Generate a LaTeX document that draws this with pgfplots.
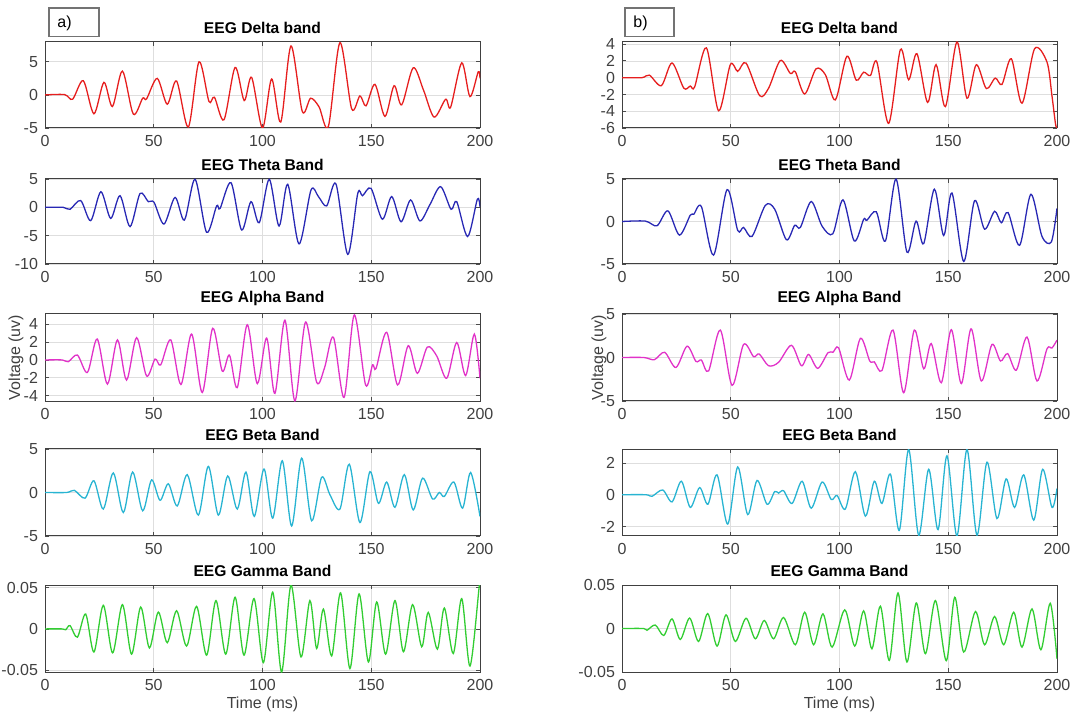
\documentclass[border=0pt]{standalone}
\usepackage{fontspec}
\setmainfont{Liberation Sans}
\usepackage{pgfplots}
\pgfplotsset{compat=1.18}
\definecolor{cdelta}{RGB}{230,30,30}
\definecolor{ctheta}{RGB}{40,40,180}
\definecolor{calpha}{RGB}{225,50,200}
\definecolor{cbeta}{RGB}{40,180,210}
\definecolor{cgamma}{RGB}{50,205,50}
\pgfplotsset{
  eeg/.style={
    scale only axis, width=217.5pt, anchor=north west,
    xmin=0, xmax=200, xtick={0,50,100,150,200}, xticklabels={0,50,100,150,200},
    grid=major, grid style={black!13, line width=0.35pt},
    tick align=inside, tick pos=both, major tick length=2.2pt,
    tick style={black!70, line width=0.4pt},
    axis line style={black!75, line width=0.5pt},
    ticklabel style={font=\fontsize{8}{9}\selectfont, text=black!75},
    title style={font=\bfseries\fontsize{7.8}{9}\selectfont, at={(0.5,1)}, anchor=south, yshift=-3pt, inner sep=1pt},
    scaled y ticks=false,
    x label style={font=\fontsize{8}{9}\selectfont, text=black!75, at={(axis description cs:0.5,0)}, anchor=center, yshift=-16pt},
  },
  sig/.style={smooth, line width=0.65pt},
}
\begin{document}
\begin{tikzpicture}
\path[use as bounding box] (0,0) rectangle (535pt,-357.5pt);
% boxes
\draw[black!55, line width=0.9pt] (24.5pt,-4.2pt) rectangle (49.5pt,-18.3pt);
\node[anchor=west, inner sep=0pt, font=\fontsize{8}{9}\selectfont] at (28.5pt,-11.8pt) {a)};
\draw[black!55, line width=0.9pt] (312.5pt,-4.2pt) rectangle (337pt,-18.3pt);
\node[anchor=west, inner sep=0pt, font=\fontsize{8}{9}\selectfont] at (316.5pt,-11.8pt) {b)};
% voltage labels
\node[rotate=90, font=\fontsize{8}{9}\selectfont, text=black!75] at (8pt,-178.75pt) {Voltage (uv)};
\node[rotate=90, font=\fontsize{8}{9}\selectfont, text=black!75] at (299.5pt,-178.75pt) {Voltage (uv)};

% ---------- Row 1 ----------
\begin{axis}[eeg, at={(22.5pt,-21pt)}, height=43pt, title={EEG Delta band},
  ymin=-5, ymax=8, ytick={-5,0,5}, yticklabels={-5,0,5}]
\addplot[sig, cdelta] coordinates {(0,0)(9,0.05)(12.7,-0.65)(17.6,2.15)(22.5,-2.85)(27.1,1.9)(31,-1.75)(35.6,3.6)(40.6,-2.9)(44.9,-0.5)(46.7,-0.6)(51.6,2.5)(56.2,-1.4)(60.5,2.1)(65.9,-4.85)(70.8,5.0)(75.4,-1.0)(77.9,-0.35)(82.3,-3.75)(87.4,4.15)(91.6,-0.85)(95,2.65)(100,-5.0)(104.2,2.4)(108.4,-4.1)(113.1,7.4)(118.3,-2.5)(122.1,-0.5)(126,-1.8)(130.3,-4.75)(135.6,7.9)(141,-2.1)(144.8,-0.15)(147.6,-1.65)(151.7,1.6)(156.3,-3.25)(160.5,1.4)(164,-1.5)(169.3,4.1)(174,0.75)(178.9,-3.35)(184.2,-0.65)(186.5,-1.85)(191.6,4.85)(195.4,-0.25)(199.2,3.5)(200,2.5)};
\end{axis}
\begin{axis}[eeg, at={(311pt,-21pt)}, height=43pt, title={EEG Delta band},
  ymin=-6, ymax=4.25, ytick={-6,-4,-2,0,2,4}, yticklabels={-6,-4,-2,0,2,4}]
\addplot[sig, cdelta] coordinates {(0,0)(9.2,0)(12.6,0.3)(18.1,-0.95)(23,1.75)(28.4,-1.25)(31.4,-1.0)(33.4,-1.1)(38.8,3.55)(44.4,-3.95)(49.8,1.55)(53.2,0.75)(57,1.75)(63.3,-2.15)(67.4,-1.25)(72.8,2.05)(77.4,0.5)(79.7,0.7)(84,-1.95)(89.2,1.05)(93.5,0.35)(98.1,-2.65)(103.4,2.55)(107.7,-0.3)(111.1,0.65)(114.2,0.25)(117.2,1.85)(122.6,-5.45)(128,3.35)(131.8,-0.25)(135.6,2.85)(140.5,-2.95)(144.4,1.55)(148.7,-3.45)(154,4.25)(158.6,-2.45)(162.9,1.55)(167.5,-1.3)(171.6,-0.05)(174.7,-0.8)(179,2.25)(183.9,-3.05)(189.7,3.45)(195.4,1.85)(197.7,-2.2)(199.3,-5.5)(200,-6.0)};
\end{axis}

% ---------- Row 2 ----------
\begin{axis}[eeg, at={(22.5pt,-89.5pt)}, height=42.5pt, title={EEG Theta Band},
  ymin=-10, ymax=5, ytick={-10,-5,0,5}, yticklabels={-10,-5,0,5}]
\addplot[sig, ctheta] coordinates {(0,0)(8.4,0)(11.5,-0.35)(16.4,1.2)(21,-2.35)(25.7,2.75)(30.2,-1.95)(34.5,2.05)(39.1,-3.4)(43.7,2.45)(47.5,1.0)(50.1,0.9)(54.7,-2.95)(59.8,1.75)(64.1,-2.25)(69,4.95)(74.3,-4.4)(78.9,0.25)(80.5,-0.2)(85.5,4.35)(90.4,-4.0)(94.7,1.0)(98.5,-2.7)(103.1,4.95)(107.6,-3.3)(111.6,4.05)(116.8,-6.45)(122.3,3.05)(125.7,1.9)(129.5,0.25)(133.8,4.1)(139.2,-8.3)(143.8,2.45)(146,2.05)(149.9,3.35)(155.1,-2.1)(159.4,1.9)(163.7,-2.55)(168.1,1.3)(172.4,-2.4)(177,0.5)(181.9,3.65)(186.7,-0.35)(189.3,1.0)(194.3,-5.15)(198.8,1.45)(200,0.1)};
\end{axis}
\begin{axis}[eeg, at={(311pt,-89.5pt)}, height=42.5pt, title={EEG Theta Band},
  ymin=-5, ymax=5, ytick={-5,0,5}, yticklabels={-5,0,5}]
\addplot[sig, ctheta] coordinates {(0,0)(10.7,0.05)(16.1,-0.5)(21.1,1.25)(26.4,-1.6)(31.4,0.75)(33,0.85)(36.5,1.75)(42.1,-3.95)(48.3,3.75)(53.2,-1.05)(55.9,-0.7)(59.8,-1.75)(65.9,1.9)(70.2,1.45)(75.6,-2.15)(79.4,-0.45)(82,-0.7)(87,2.35)(92,-0.55)(96.9,-1.45)(101.6,2.55)(106.8,-2.3)(111.1,0.25)(112.6,0.15)(116.9,1.15)(121.1,-2.3)(126,5.0)(131,-3.6)(135.2,0.05)(138.7,-2.6)(143.6,3.8)(147.9,-1.65)(151.7,3.35)(157.1,-4.7)(162.1,2.45)(166.7,-0.9)(171.3,1.2)(174.4,-0.15)(177.5,1.05)(182.8,-2.8)(188,3.2)(193.1,-1.75)(197.4,-2.4)(200,1.55)};
\end{axis}

% ---------- Row 3 ----------
\begin{axis}[eeg, at={(22.5pt,-157pt)}, height=43.5pt, title={EEG Alpha Band},
  ymin=-4.6, ymax=5.15, ytick={-4,-2,0,2,4}, yticklabels={-4,-2,0,2,4}]
\addplot[sig, calpha] coordinates {(0,0)(8,0)(10.7,-0.2)(14.9,0.55)(19.5,-1.4)(24,2.35)(28.7,-2.7)(33.3,2.25)(37.5,-2.25)(42.1,2.5)(46.7,-1.8)(50.6,0.1)(53.2,-0.55)(57.8,2.25)(62.5,-2.75)(67.4,2.9)(72.3,-3.65)(77.1,3.55)(81.5,-1.25)(84.8,0.55)(88.4,-3.1)(93,3.95)(97.6,-2.65)(101.9,2.45)(105.7,-3.75)(110.3,4.45)(114.9,-4.6)(119.8,4.25)(124.9,-2.5)(128.5,-0.9)(132.6,2.55)(137.5,-4.2)(142.2,5.05)(147.4,-2.8)(150.6,-0.55)(152.2,-0.95)(157.1,3.1)(162.1,-2.8)(167,1.6)(171.2,-1.5)(175.8,1.45)(180.1,0.45)(184.7,-2.05)(189.3,1.95)(193.4,-1.75)(197.4,2.9)(200,-2.05)};
\end{axis}
\begin{axis}[eeg, at={(311pt,-157pt)}, height=43.5pt, title={EEG Alpha Band},
  ymin=-5, ymax=5, ytick={-5,0,5}, yticklabels={-5,0,5}]
\addplot[sig, calpha] coordinates {(0,0)(10,0)(14.9,-0.25)(19.6,0.6)(24.8,-1.15)(29.9,1.3)(34,-0.45)(36.5,-0.3)(39.8,-1.55)(45.2,3.15)(50.6,-3.2)(55.9,1.5)(60.5,0.1)(63.1,0.4)(67.4,-0.95)(72,-0.55)(77.9,1.4)(82.5,-0.95)(85.8,0.35)(90,-1.25)(94.7,0.55)(97,0.6)(99.6,1.1)(104.5,-2.6)(109.6,2.2)(113.9,-0.4)(116,-0.5)(119.5,-1.5)(124.6,3.15)(129.5,-4.05)(134.4,3.15)(138.7,-1.3)(142.2,1.6)(146.8,-2.9)(151.4,3.2)(156,-3.0)(160.5,3.3)(165.2,-2.7)(170.1,1.5)(174,-0.4)(177.3,0.45)(181.3,-1.45)(186.2,2.35)(190.8,-2.7)(195.4,1.0)(197.7,1.1)(200,2.0)};
\end{axis}

% ---------- Row 4 ----------
\begin{axis}[eeg, at={(22.5pt,-224.5pt)}, height=43.5pt, title={EEG Beta Band},
  ymin=-5, ymax=5, ytick={-5,0,5}, yticklabels={-5,0,5}]
\addplot[sig, cbeta] coordinates {(0,0)(10,0)(13.5,0.25)(18.4,-0.65)(22.5,1.35)(26.8,-1.9)(31.4,2.25)(36,-2.3)(40.3,2.35)(44.9,-2.1)(49,1.45)(52.9,-0.9)(56.7,1.0)(60.8,-1.55)(65.4,2.05)(70.5,-2.6)(75.1,3.0)(79.7,-2.6)(84,1.9)(88.4,-1.9)(92.4,2.35)(96.2,-2.75)(100.7,2.7)(104.7,-2.95)(109.1,3.65)(113.4,-3.85)(118,3.95)(122.6,-3.25)(127.2,1.75)(131,-0.25)(135.6,-1.9)(139.9,3.25)(144.8,-3.45)(149.4,2.4)(153.3,-1.25)(157.1,1.2)(160.9,-1.7)(165.2,2.05)(169.3,-2.0)(173.6,1.65)(178.2,-0.75)(181.3,0.0)(183.6,-0.45)(188,1.2)(192,-1.8)(195.7,2.3)(200,-2.75)};
\end{axis}
\begin{axis}[eeg, at={(311pt,-224.5pt)}, height=43.5pt, title={EEG Beta Band},
  ymin=-2.6, ymax=2.88, ytick={-2,0,2}, yticklabels={-2,0,2}]
\addplot[sig, cbeta] coordinates {(0,0)(11,0)(13.8,-0.1)(18.7,0.3)(23,-0.45)(27.3,0.85)(31.4,-0.8)(35.7,0.45)(39.5,-0.6)(43.7,1.25)(48.6,-1.85)(53.2,1.75)(57.8,-1.25)(62.1,0.9)(66.7,-0.6)(70.2,0.2)(72,0.1)(74.3,0.25)(78.2,-0.55)(82.8,0.85)(87,-0.85)(92,0.8)(96.2,-0.3)(98.9,-0.05)(102.7,-0.9)(107.3,1.45)(111.9,-1.35)(116,0.85)(119.5,-0.55)(123.4,1.3)(127.5,-2.25)(131.8,2.85)(136.4,-2.55)(141,1.6)(145.3,-2.2)(149.4,2.45)(154,-2.6)(158.6,2.85)(163.2,-2.55)(167.8,2.05)(172.4,-1.5)(176.6,1.0)(180.5,-0.8)(184.7,1.25)(189.3,-1.6)(193.4,1.6)(197.7,-0.8)(200,0.4)};
\end{axis}

% ---------- Row 5 ----------
\begin{axis}[eeg, at={(22.5pt,-292.5pt)}, height=43.5pt, title={EEG Gamma Band},
  ymin=-0.0522, ymax=0.0532, ytick={-0.05,0,0.05}, yticklabels={-0.05,0,0.05},
  xlabel={Time (ms)}]
\addplot[sig, cgamma] coordinates {(0,0)(8,0)(9.5,-0.001)(11.5,0.004)(14.9,-0.010)(18.7,0.018)(22.5,-0.028)(26.8,0.0286)(31.1,-0.029)(35.6,0.0294)(39.8,-0.0306)(44,0.0265)(48,-0.023)(52.1,0.0204)(56.2,-0.0167)(60.5,0.022)(65.1,-0.0208)(69.7,0.0273)(74.3,-0.0318)(78.6,0.0343)(83.1,-0.0306)(87.4,0.0384)(91.5,-0.0318)(96.1,0.0367)(100.4,-0.0408)(104.7,0.0445)(108.8,-0.0522)(113.1,0.053)(117.7,-0.034)(121.8,0.0343)(124.9,-0.0237)(128,0.024)(131.8,-0.0327)(135.9,0.0437)(140.2,-0.048)(144.4,0.0424)(148.7,-0.040)(152.5,0.0327)(156.6,-0.0306)(160.9,0.0343)(164.8,-0.0277)(169,0.0294)(173.2,-0.0216)(176.2,0.020)(180.4,-0.0245)(183.6,0.0253)(187.7,-0.0298)(191.6,0.0367)(195.4,-0.045)(199.7,0.053)(200,0.052)};
\end{axis}
\begin{axis}[eeg, at={(311pt,-292.5pt)}, height=43.5pt, title={EEG Gamma Band},
  ymin=-0.05, ymax=0.05, ytick={-0.05,0,0.05}, yticklabels={-0.05,0,0.05},
  xlabel={Time (ms)}]
\addplot[sig, cgamma] coordinates {(0,0)(10,0)(11.5,-0.002)(15.3,0.004)(19.2,-0.008)(23,0.011)(26.8,-0.0126)(31.1,0.012)(35.2,-0.0149)(39.4,0.0172)(43.7,-0.0202)(47.8,0.0157)(52.1,-0.0149)(57,0.0118)(61.3,-0.0118)(65.4,0.0092)(69.7,-0.0118)(74.3,0.0126)(79.7,-0.0187)(84,0.0187)(88.1,-0.0187)(92.4,0.0168)(96.6,-0.0214)(102.4,0.0214)(107,-0.0202)(111.1,0.0202)(114.9,-0.0233)(118.8,0.0256)(122.9,-0.0367)(126.9,0.0409)(131,-0.0386)(135.3,0.0294)(139.5,-0.029)(144.1,0.0321)(149.1,-0.037)(153,0.0359)(157.1,-0.0271)(162.5,0.0195)(166.7,-0.0187)(171.3,0.0138)(175.5,-0.0187)(180.1,0.0187)(183.9,-0.0214)(188.5,0.0225)(192.6,-0.0244)(196.9,0.029)(200,-0.035)};
\end{axis}
\end{tikzpicture}
\end{document}
